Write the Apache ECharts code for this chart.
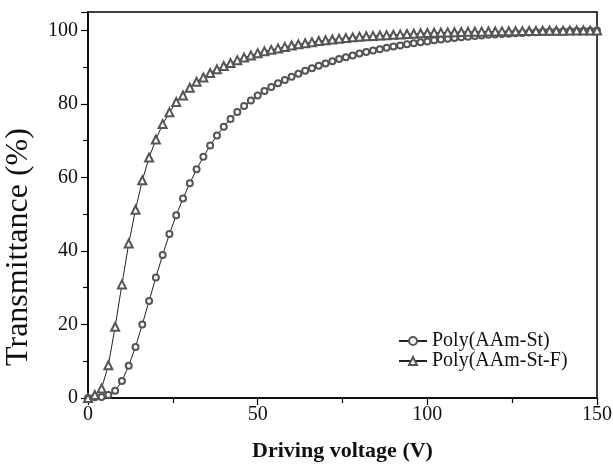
<!DOCTYPE html>
<html><head><meta charset="utf-8">
<script src="https://cdn.jsdelivr.net/npm/echarts@6/dist/echarts.min.js"></script>
<style>html,body{margin:0;padding:0;background:#fff}#c{width:613px;height:470px}</style>
</head><body><div id="c"></div>
<script>
const voltage = [];
for (let v = 0; v <= 150; v += 2) voltage.push(v);
const polyAAmSt = [0,0.2,0.3,0.8,2.0,4.6,8.8,13.9,20.0,26.4,32.8,38.9,44.6,49.7,54.3,58.4,62.2,65.6,68.7,71.4,73.8,75.9,77.8,79.4,80.9,82.3,
83.5,84.6,85.6,86.5,87.4,88.2,89.0,89.7,90.4,91.0,91.6,92.2,92.7,93.2,93.7,94.1,94.5,94.9,95.3,95.6,95.9,96.2,96.5,96.8,97.0,
97.3,97.5,97.7,97.9,98.1,98.3,98.5,98.6,98.8,98.9,99.0,99.1,99.2,99.3,99.4,99.5,99.6,99.6,99.7,99.7,99.8,99.8,99.9,99.9,100.0];
const polyAAmStF = [0,0.8,2.6,8.9,19.4,30.9,42.0,51.2,59.2,65.4,70.3,74.5,77.7,80.5,82.3,84.4,86.0,87.2,88.4,89.4,90.3,91.1,91.9,92.6,93.2,93.8,
94.3,94.7,95.1,95.5,95.9,96.2,96.5,96.8,97.1,97.3,97.5,97.7,97.9,98.1,98.3,98.4,98.5,98.6,98.7,98.8,98.9,99.0,99.1,99.2,99.3,
99.35,99.4,99.45,99.5,99.55,99.6,99.62,99.65,99.68,99.7,99.73,99.76,99.78,99.8,99.82,99.85,99.87,99.89,99.9,99.92,99.94,99.96,99.97,99.98,100.0];
const seriesNames = ['Poly(AAm-St)', 'Poly(AAm-St-F)'];
const xTitle = 'Driving voltage (V)';
const yTitle = 'Transmittance (%)';

const font = 'Liberation Serif';
const chart = echarts.init(document.getElementById('c'), null, {renderer: 'canvas'});
const pairs = arr => voltage.map((v, i) => [v, arr[i]]);
chart.setOption({
  animation: false,
  backgroundColor: '#fff',
  grid: {left: 88, right: 16, top: 12, bottom: 72, containLabel: false, outerBoundsMode: 'none',
    show: true, borderColor: '#000', borderWidth: 1.5},
  legend: {
    orient: 'vertical', left: 393, top: 326, itemGap: 0, itemWidth: 28, itemHeight: 10,
    textStyle: {fontFamily: font, fontSize: 20, color: '#111'},
    data: seriesNames
  },
  xAxis: {
    type: 'value', min: 0, max: 150, interval: 50,
    name: xTitle, nameLocation: 'middle', nameGap: 42,
    nameTextStyle: {fontFamily: font, fontSize: 22, fontWeight: 'bold', color: '#111'},
    axisLine: {lineStyle: {color: '#000', width: 1.5}},
    axisTick: {length: 7, lineStyle: {color: '#000', width: 1.2}},
    minorTick: {show: true, splitNumber: 2, length: 5, lineStyle: {color: '#000', width: 1.2}},
    axisLabel: {fontFamily: font, fontSize: 20, color: '#111', margin: 7},
    splitLine: {show: false}
  },
  yAxis: {
    type: 'value', min: 0, max: 105, interval: 20,
    name: yTitle, nameLocation: 'middle', nameGap: 53,
    nameTextStyle: {fontFamily: font, fontSize: 32, color: '#111', padding: [0, 84, 0, 0]},
    axisLine: {show: true, lineStyle: {color: '#000', width: 1.5}},
    axisTick: {show: true, length: 7, lineStyle: {color: '#000', width: 1.2}},
    minorTick: {show: true, splitNumber: 2, length: 5, lineStyle: {color: '#000', width: 1.2}},
    axisLabel: {fontFamily: font, fontSize: 20, color: '#111', margin: 10,
      formatter: v => (v <= 100 ? v : '')},
    splitLine: {show: false}
  },
  series: [
    {name: seriesNames[0], type: 'line', data: pairs(polyAAmSt), symbol: 'emptyCircle', symbolSize: 6,
      lineStyle: {color: '#222', width: 1}, itemStyle: {color: '#555', borderWidth: 1}},
    {name: seriesNames[1], type: 'line', data: pairs(polyAAmStF), symbol: 'emptyTriangle', symbolSize: 8,
      lineStyle: {color: '#222', width: 1}, itemStyle: {color: '#555', borderWidth: 1}}
  ]
});
</script></body></html>
